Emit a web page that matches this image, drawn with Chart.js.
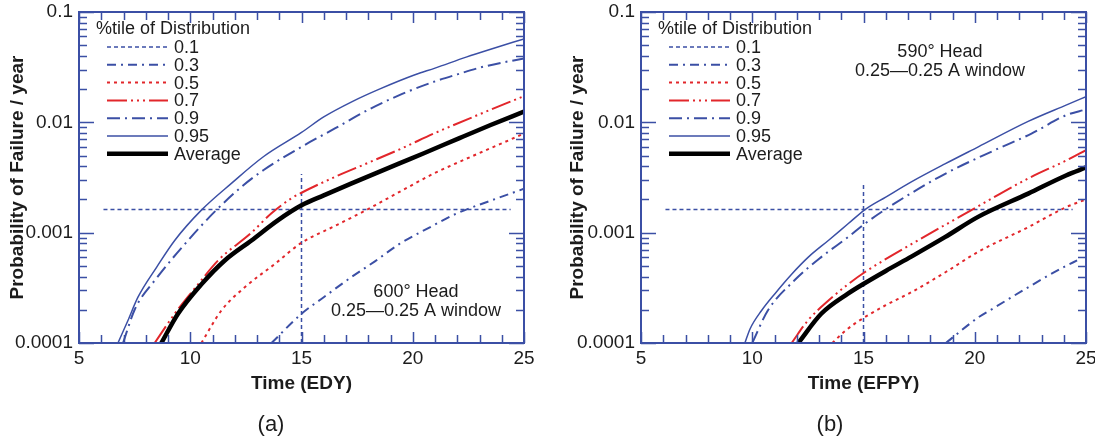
<!DOCTYPE html>
<html>
<head>
<meta charset="utf-8">
<script src="https://cdn.jsdelivr.net/npm/chart.js@4.4.1/dist/chart.umd.min.js"></script>
<style>
    html, body { margin: 0; padding: 0; background: #fff; }
    #wrap { position: relative; width: 1095px; height: 441px; }
    canvas { position: absolute; top: 0; }
</style>
</head>
<body>
<div id="wrap">
    <canvas id="chartA" width="548" height="441" style="left:0px"></canvas>
    <canvas id="chartB" width="547" height="441" style="left:548px"></canvas>
</div>
<script>
const BLUE = '#3b4fa5';
const RED = '#e2262b';
const INK = '#1c1c1c';
const FONT = "'Liberation Sans', Arial, Helvetica, sans-serif";

// axis ticks
const xTickValues = [5, 10, 15, 20, 25];
const yTickValues = [0.0001, 0.001, 0.01, 0.1];
const yTickLabels = ['0.0001', '0.001', '0.01', '0.1'];
const legendLabels = ['0.1', '0.3', '0.5', '0.7', '0.9', '0.95', 'Average'];

// (a) 600 deg head, time in EDY
const tA03 = [13.65, 15, 16, 17.2, 18.3, 19.4, 20.7, 22, 23.5, 25];
const pA03 = [1e-4, 1.84e-4, 2.6e-4, 3.9e-4, 5.5e-4, 7.9e-4, 1.1e-3, 1.5e-3, 1.95e-3, 2.5e-3];
const tA05 = [10.5, 11.4, 12.45, 13.8, 15, 16.5, 17.9, 19.5, 20.9, 22, 23.3, 25];
const pA05 = [1e-4, 1.97e-4, 3.2e-4, 5.2e-4, 8.1e-4, 1.15e-3, 1.6e-3, 2.4e-3, 3.4e-3, 4.3e-3, 5.6e-3, 7.9e-3];
const tA07 = [8.4, 9.3, 10.35, 11.25, 12.75, 13.65, 14.55, 15, 16.5, 18, 19.5, 21, 22.9, 25];
const pA07 = [1e-4, 1.84e-4, 3.4e-4, 5.6e-4, 1.0e-3, 1.5e-3, 2.05e-3, 2.3e-3, 3.2e-3, 4.3e-3, 5.8e-3, 8.0e-3, 0.0116, 0.0173];
const tA09 = [6.98, 7.5, 8.5, 9.9, 11.1, 12.3, 13.3, 15, 16.5, 18, 19.5, 21, 22, 23.2, 25];
const pA09 = [1e-4, 2e-4, 3.9e-4, 8.5e-4, 1.55e-3, 2.6e-3, 3.7e-3, 6.0e-3, 8.8e-3, 0.013, 0.018, 0.0235, 0.0272, 0.032, 0.038];
const tA095 = [6.75, 7.2, 7.65, 8.5, 9.3, 10.5, 11.85, 13.3, 15, 16, 17.3, 18.5, 20.1, 21, 22.4, 23.5, 25];
const pA095 = [1e-4, 1.6e-4, 2.6e-4, 4.9e-4, 8.5e-4, 1.6e-3, 2.8e-3, 4.9e-3, 8.1e-3, 0.0112, 0.0155, 0.020, 0.027, 0.031, 0.039, 0.046, 0.057];
const tAavg = [8.7, 9.45, 10.5, 11.55, 12.75, 13.95, 15, 16, 17.2, 18.3, 19.4, 20.5, 22.1, 23.5, 25];
const pAavg = [1e-4, 1.84e-4, 3.4e-4, 5.6e-4, 8.5e-4, 1.3e-3, 1.77e-3, 2.18e-3, 2.77e-3, 3.43e-3, 4.25e-3, 5.25e-3, 7.2e-3, 9.45e-3, 0.0125];

// (b) 590 deg head, time in EFPY
const tB03 = [18.7, 20.15, 20.9, 22.4, 24.1, 24.6];
const pB03 = [1e-4, 1.7e-4, 2.1e-4, 3.2e-4, 5.0e-4, 5.6e-4];
const tB05 = [13.6, 14.2, 15.07, 16, 17.17, 18.7, 20.15, 22.4, 24.1, 25];
const pB05 = [1e-4, 1.3e-4, 1.72e-4, 2.2e-4, 2.9e-4, 4.4e-4, 6.7e-4, 1.12e-3, 1.7e-3, 2.0e-3];
const tB07 = [11.77, 12.5, 13.4, 14.3, 15.07, 17.17, 19.85, 22.4, 24.1, 25];
const pB07 = [1e-4, 1.6e-4, 2.4e-4, 3.4e-4, 4.4e-4, 7.9e-4, 1.6e-3, 3.1e-3, 4.5e-3, 5.6e-3];
const tB09 = [10, 10.7, 11.9, 13.1, 14.3, 15.07, 16.4, 18.65, 20.9, 22.55, 24.1, 25];
const pB09 = [1e-4, 1.97e-4, 3.7e-4, 6.0e-4, 9.1e-4, 1.21e-3, 1.84e-3, 3.4e-3, 5.6e-3, 7.9e-3, 0.0116, 0.0131];
const tB095 = [9.67, 9.9, 10.42, 11.02, 11.77, 12.52, 13.42, 14.32, 15.07, 16, 17.17, 18.66, 20.16, 22.4, 24.13, 25];
const pB095 = [1e-4, 1.34e-4, 1.97e-4, 2.8e-4, 4.2e-4, 6.0e-4, 8.5e-4, 1.21e-3, 1.62e-3, 2.1e-3, 2.9e-3, 4.2e-3, 6.0e-3, 0.0102, 0.0144, 0.0171];
const tBavg = [12.07, 13.1, 14.3, 15.07, 16, 17.17, 18.66, 20.15, 22.4, 24.1, 25];
const pBavg = [1e-4, 1.84e-4, 2.8e-4, 3.5e-4, 4.5e-4, 6.1e-4, 9.1e-4, 1.39e-3, 2.26e-3, 3.3e-3, 3.9e-3];

// dotted guide lines (target frequency and 15 years)
const hLineT = [6.1, 24.4];
const hLineP = [1.62e-3, 1.62e-3];
const vLineT = [15, 15];
const vLinePA = [1e-4, 3.4e-3];
const vLinePB = [1e-4, 2.7e-3];

const styles = {
    '0.1':     { color: BLUE, width: 1.5, dash: [4, 3] },
    '0.3':     { color: BLUE, width: 2, dash: [9, 5, 2, 5] },
    '0.5':     { color: RED, width: 2, dash: [3, 4] },
    '0.7':     { color: RED, width: 2, dash: [20, 4, 2, 4, 2, 4, 2, 4] },
    '0.9':     { color: BLUE, width: 2, dash: [13, 5, 2, 5] },
    '0.95':    { color: BLUE, width: 1.5, dash: [] },
    'Average': { color: '#000', width: 4.5, dash: [] }
};

function line(label, times, values) {
    const s = styles[label];
    return {
        label: label,
        data: times.map((t, i) => ({ x: t, y: values[i] })),
        borderColor: s.color,
        borderWidth: s.width,
        borderDash: s.dash,
        pointRadius: 0,
        cubicInterpolationMode: 'monotone',
        fill: false
    };
}

function guide(times, values) {
    return {
        label: 'guide',
        data: times.map((t, i) => ({ x: t, y: values[i] })),
        borderColor: BLUE,
        borderWidth: 1.5,
        borderDash: [4, 3],
        pointRadius: 0,
        fill: false
    };
}

// frame, inward ticks, legend, notes and caption
const framePlugin = {
    id: 'frame',
    afterDatasetsDraw(chart, args, opts) {
        const { ctx, chartArea: a, scales: { x, y } } = chart;
        ctx.save();
        ctx.strokeStyle = BLUE;
        ctx.lineWidth = 1.5;
        ctx.beginPath();
        for (let v = x.min; v <= x.max; v++) {
            const px = Math.round(x.getPixelForValue(v)) + 0.5;
            const len = xTickValues.includes(v) ? 11 : 8;
            ctx.moveTo(px, a.bottom); ctx.lineTo(px, a.bottom - len);
            ctx.moveTo(px, a.top); ctx.lineTo(px, a.top + len);
        }
        yTickValues.forEach((d, i) => {
            const last = i === yTickValues.length - 1;
            for (let k = 1; k <= (last ? 1 : 9); k++) {
                const py = Math.round(y.getPixelForValue(k * d)) + 0.5;
                const len = k === 1 ? 15 : 8;
                ctx.moveTo(a.left, py); ctx.lineTo(a.left + len, py);
                ctx.moveTo(a.right, py); ctx.lineTo(a.right - len, py);
            }
        });
        ctx.stroke();
        ctx.lineWidth = 2;
        ctx.strokeRect(a.left, a.top, a.right - a.left, a.bottom - a.top);

        // legend
        ctx.fillStyle = INK;
        ctx.font = '18px ' + FONT;
        ctx.textBaseline = 'middle';
        ctx.textAlign = 'left';
        ctx.fillText('%tile of Distribution', a.left + 17, 29);
        legendLabels.forEach((lab, i) => {
            const s = styles[lab];
            const ly = 47 + i * 17.8;
            ctx.beginPath();
            ctx.strokeStyle = s.color;
            ctx.lineWidth = s.width;
            ctx.setLineDash(s.dash);
            ctx.moveTo(a.left + 28, ly);
            ctx.lineTo(a.left + 89, ly);
            ctx.stroke();
            ctx.setLineDash([]);
            ctx.fillText(lab, a.left + 95, ly + 1);
        });

        // note
        ctx.textAlign = 'center';
        ctx.fillText(opts.note[0], opts.noteX, opts.noteY);
        ctx.fillText(opts.note[1], opts.noteX, opts.noteY + 19);

        // caption
        ctx.font = '22px ' + FONT;
        ctx.fillText(opts.caption, opts.captionX, 425);
        ctx.restore();
    }
};

function makeChart(id, cfg) {
    return new Chart(document.getElementById(id), {
        type: 'line',
        data: { datasets: cfg.datasets },
        plugins: [framePlugin],
        options: {
            responsive: false,
            animation: false,
            devicePixelRatio: 1,
            layout: { padding: { left: 0, right: cfg.padRight, top: 12, bottom: 46 } },
            plugins: {
                legend: { display: false },
                tooltip: { enabled: false },
                frame: {
                    note: cfg.note, noteX: cfg.noteX, noteY: cfg.noteY,
                    caption: cfg.caption, captionX: cfg.captionX
                }
            },
            scales: {
                x: {
                    type: 'linear',
                    min: 5,
                    max: 25,
                    afterBuildTicks: s => { s.ticks = xTickValues.map(v => ({ value: v })); },
                    afterFit: s => { s.height = 52; s.paddingLeft = 0; s.paddingRight = 0; },
                    ticks: { font: { family: FONT, size: 19 }, color: INK, padding: 4, maxRotation: 0, autoSkip: false },
                    grid: { display: false, drawTicks: false },
                    border: { display: false },
                    title: {
                        display: true, text: cfg.xTitle, color: INK,
                        font: { family: FONT, size: 19, weight: 'bold' },
                        padding: { top: 0, bottom: 0 }
                    }
                },
                y: {
                    type: 'logarithmic',
                    min: 0.0001,
                    max: 0.1,
                    afterBuildTicks: s => { s.ticks = yTickValues.map(v => ({ value: v })); },
                    afterFit: s => { s.width = cfg.yWidth; s.paddingTop = 0; s.paddingBottom = 0; },
                    ticks: {
                        font: { family: FONT, size: 19 }, color: INK, padding: 6, autoSkip: false,
                        callback: v => yTickLabels[yTickValues.indexOf(v)] || ''
                    },
                    grid: { display: false, drawTicks: false },
                    border: { display: false },
                    title: {
                        display: true, text: 'Probability of Failure / year', color: INK,
                        font: { family: FONT, size: 19, weight: 'bold' },
                        padding: { top: cfg.yTitlePad, bottom: 0 }
                    }
                }
            }
        }
    });
}

makeChart('chartA', {
    datasets: [
        line('Average', tAavg, pAavg),
        line('0.95', tA095, pA095),
        line('0.9', tA09, pA09),
        line('0.7', tA07, pA07),
        line('0.5', tA05, pA05),
        line('0.3', tA03, pA03),
        line('0.1', [], []),
        guide(hLineT, hLineP),
        guide(vLineT, vLinePA)
    ],
    padRight: 24,
    yWidth: 79,
    yTitlePad: 6,
    xTitle: 'Time (EDY)',
    note: ['600° Head', '0.25—0.25 A window'],
    noteX: 416, noteY: 292,
    caption: '(a)', captionX: 271
});

makeChart('chartB', {
    datasets: [
        line('Average', tBavg, pBavg),
        line('0.95', tB095, pB095),
        line('0.9', tB09, pB09),
        line('0.7', tB07, pB07),
        line('0.5', tB05, pB05),
        line('0.3', tB03, pB03),
        line('0.1', [], []),
        guide(hLineT, hLineP),
        guide(vLineT, vLinePB)
    ],
    padRight: 9,
    yWidth: 93,
    yTitlePad: 18,
    xTitle: 'Time (EFPY)',
    note: ['590° Head', '0.25—0.25 A window'],
    noteX: 392, noteY: 52,
    caption: '(b)', captionX: 282
});
</script>
</body>
</html>
